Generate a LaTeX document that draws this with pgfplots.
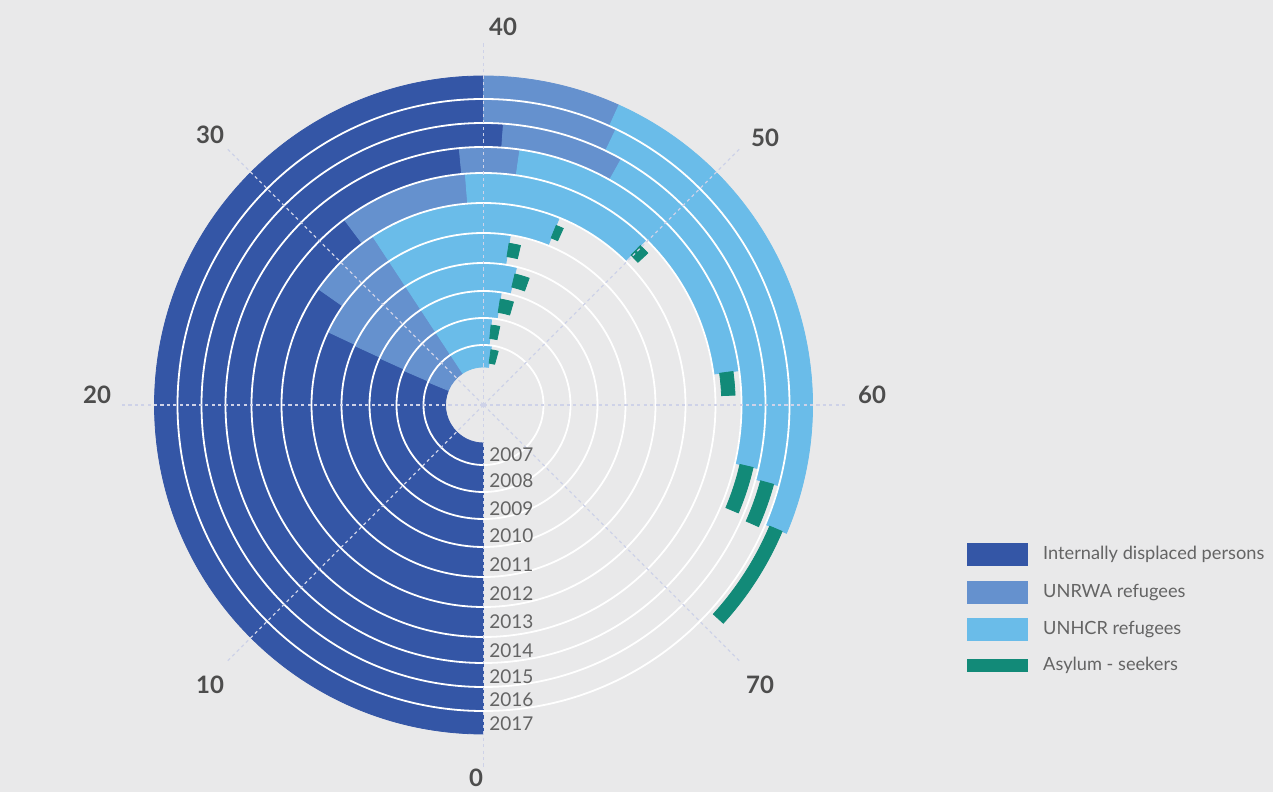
\documentclass[border=0pt]{standalone}
\usepackage{pgfplots}
\pgfplotsset{compat=1.18}
\usepackage{pgfplotstable}
\usepackage{fontspec}
\setmainfont{Lato}

\definecolor{cidp}{RGB}{52,86,166}
\definecolor{cunrwa}{RGB}{101,145,206}
\definecolor{cunhcr}{RGB}{106,188,233}
\definecolor{casy}{RGB}{18,138,120}
\definecolor{cbg}{RGB}{233,233,234}
\definecolor{cdash}{RGB}{206,210,232}
\definecolor{ctext}{RGB}{100,100,100}
\definecolor{cnum}{RGB}{77,77,77}

\pgfdeclareplotmark{blank}{}

% values on the circular scale (80 = one full turn, 0 at the bottom, clockwise)
% rin / rout = ring radii in px of the 1273x792 picture
\pgfplotstableread{
year idp  unrwa unhcr asy rin rout
2007 25.0 7.6   9.1   1.7 38  60
2008 25.2 7.4   8.6   1.4 60  87
2009 25.4 7.2   9.4   1.6 87  114
2010 25.5 7.1   10.4  1.4 114 142
2011 25.6 7.0   9.4   0.9 142 172
2012 27.8 4.8   12.3  0.5 172 202
2013 31.8 7.2   10.9  0.6 202 232
2014 38.8 3.0   16.5  1.2 232 258
2015 40.9 5.6   16.4  2.2 258 282
2016 40.0 5.7   17.7  1.9 282 306
2017 40.0 5.4   19.7  4.3 306 329
}\data

% one ring segment per row, drawn around the centre point
% #1 colour, #2 start, #3 end, #4 inner inset, #5 outer inset (px)
\pgfplotsset{
  sector/.style n args={5}{
    scatter, only marks, mark=blank, forget plot,
    point meta=\coordindex,
    visualization depends on={\thisrow{idp} \as \vIdp},
    visualization depends on={\thisrow{unrwa} \as \vUnrwa},
    visualization depends on={\thisrow{unhcr} \as \vUnhcr},
    visualization depends on={\thisrow{asy} \as \vAsy},
    visualization depends on={\thisrow{rin} \as \rIn},
    visualization depends on={\thisrow{rout} \as \rOut},
    scatter/@pre marker code/.code={%
      \pgfmathsetmacro\angA{270-4.5*(#2)}%
      \pgfmathsetmacro\angB{270-4.5*(#3)}%
      \pgfmathsetmacro\radA{(\rIn+#4)*0.5}%
      \pgfmathsetmacro\radB{(\rOut-#5)*0.5}%
      \fill[#1] (\angA:\radB pt) arc[start angle=\angA, end angle=\angB, radius=\radB pt]
        -- (\angB:\radA pt) arc[start angle=\angB, end angle=\angA, radius=\radA pt] -- cycle;
    },
    scatter/@post marker code/.code={},
  },
}

\begin{document}
\begin{tikzpicture}
\begin{axis}[
    width=636.5pt, height=396pt, scale only axis,
    xmin=0, xmax=1273, ymin=0, ymax=792,
    hide axis, clip=false, set layers,
    legend style={draw=none, fill=none, at={(0.7549,0.3195)}, anchor=north west,
      font=\fontsize{9.1}{11}\selectfont, text=ctext, row sep=7.3pt,
      nodes={inner xsep=0pt, inner ysep=1pt},
      /tikz/every odd column/.append style={column sep=7.5pt}},
    legend cell align=left,
  ]
  \begin{pgfonlayer}{axis background}
    \fill[cbg] (axis cs:0,0) rectangle (axis cs:1273,792);
  \end{pgfonlayer}

  \addplot[sector={cidp}{0}{\vIdp}{0}{0}] table[x expr=483.5, y expr=387] {\data};
  \addplot[sector={cunrwa}{\vIdp}{\vIdp+\vUnrwa}{0}{0}] table[x expr=483.5, y expr=387] {\data};
  \addplot[sector={cunhcr}{\vIdp+\vUnrwa}{\vIdp+\vUnrwa+\vUnhcr}{0}{0}] table[x expr=483.5, y expr=387] {\data};
  \addplot[sector={casy}{\vIdp+\vUnrwa+\vUnhcr}{\vIdp+\vUnrwa+\vUnhcr+\vAsy}%
    {(\rOut-\rIn-13.5)/2}{(\rOut-\rIn-13.5)/2}] table[x expr=483.5, y expr=387] {\data};

  \begin{pgfonlayer}{axis foreground}
    % white ring separators
    \pgfplotsinvokeforeach{60,87,114,142,172,202,232,258,282,306}{
      \draw[white, line width=0.9pt] (axis cs:483.5,387) circle[radius={#1*0.5pt}];
    }
    % dotted radial guides
    \pgfplotsinvokeforeach{270,225,180,135,90,45,0,-45}{
      \draw[cdash, line width=0.6pt, dash pattern=on 1.6pt off 1.6pt]
        (axis cs:483.5,387) -- ++(#1:181pt);
    }

    % year labels
    \begin{scope}[every node/.style={font=\fontsize{9.5}{11}\selectfont, text=ctext, inner sep=0pt, anchor=west}]
      \node at (axis cs:489,337) {2007};
      \node at (axis cs:489,311) {2008};
      \node at (axis cs:489,283) {2009};
      \node at (axis cs:489,256) {2010};
      \node at (axis cs:489,227) {2011};
      \node at (axis cs:489,198) {2012};
      \node at (axis cs:489,170) {2013};
      \node at (axis cs:489,141) {2014};
      \node at (axis cs:489,115) {2015};
      \node at (axis cs:489,92) {2016};
      \node at (axis cs:489,68) {2017};
    \end{scope}

    % scale labels
    \begin{scope}[every node/.style={font=\fontsize{12}{14}\selectfont\bfseries, text=cnum, inner sep=0pt}]
      \node at (axis cs:503,765) {40};
      \node at (axis cs:765,654) {50};
      \node at (axis cs:872,397) {60};
      \node at (axis cs:760,107) {70};
      \node at (axis cs:476,14) {0};
      \node at (axis cs:210,107) {10};
      \node at (axis cs:97,397) {20};
      \node at (axis cs:210,657) {30};
    \end{scope}
  \end{pgfonlayer}

  \addlegendimage{legend image code/.code={\fill[cidp] (0pt,-5.5pt) rectangle (30pt,5.5pt);}}
  \addlegendentry{Internally displaced persons}
  \addlegendimage{legend image code/.code={\fill[cunrwa] (0pt,-5.5pt) rectangle (30pt,5.5pt);}}
  \addlegendentry{UNRWA refugees}
  \addlegendimage{legend image code/.code={\fill[cunhcr] (0pt,-5.5pt) rectangle (30pt,5.5pt);}}
  \addlegendentry{UNHCR refugees}
  \addlegendimage{legend image code/.code={\fill[casy] (0pt,-3pt) rectangle (30pt,3pt);}}
  \addlegendentry{Asylum - seekers}
\end{axis}
\pgfresetboundingbox
\useasboundingbox (current axis.south west) rectangle (current axis.north east);
\end{tikzpicture}
\end{document}
